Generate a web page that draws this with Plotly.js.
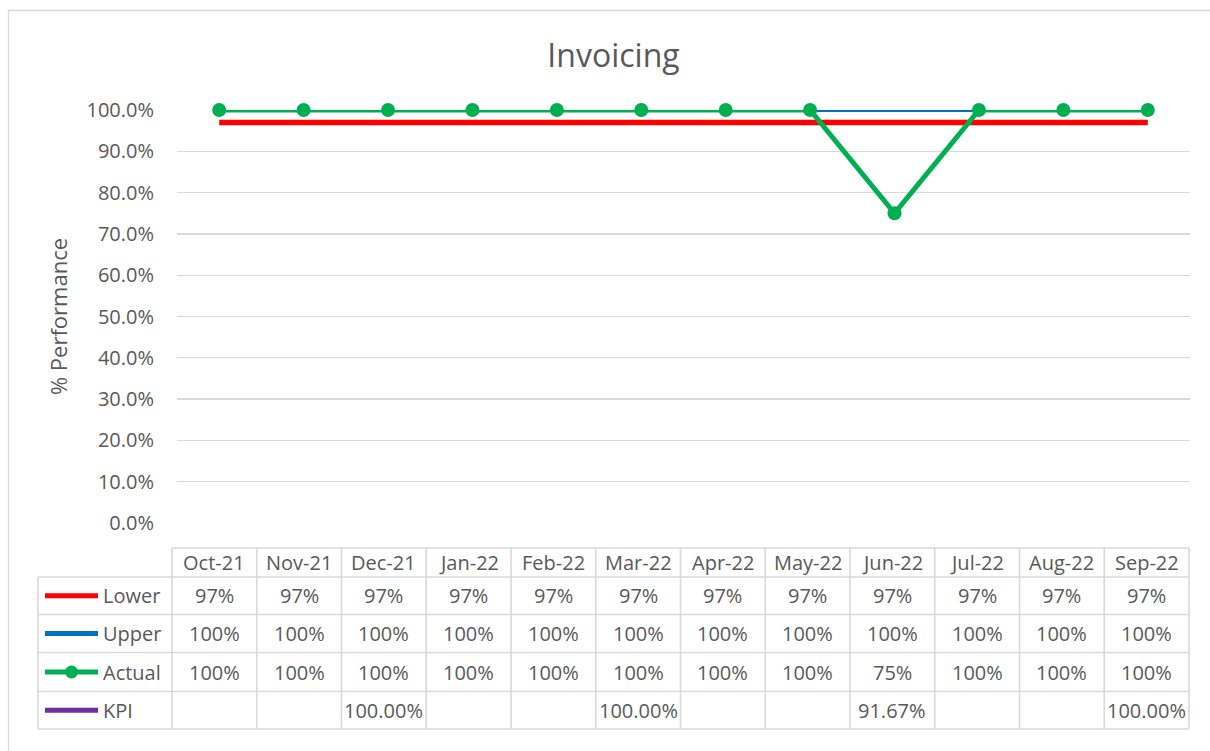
<!DOCTYPE html>
<html>
<head>
<meta charset="utf-8">
<script src="https://cdn.plot.ly/plotly-3.0.1.min.js"></script>
<style>html,body{margin:0;padding:0;background:#fff;}#chart{width:1210px;height:751px;}</style>
</head>
<body>
<div id="chart"></div>
<script>
// ---- data ----
const months = ["Oct-21","Nov-21","Dec-21","Jan-22","Feb-22","Mar-22","Apr-22","May-22","Jun-22","Jul-22","Aug-22","Sep-22"];
const lower  = [0.97,0.97,0.97,0.97,0.97,0.97,0.97,0.97,0.97,0.97,0.97,0.97];
const upper  = [1,1,1,1,1,1,1,1,1,1,1,1];
const actual = [1,1,1,1,1,1,1,1,0.75,1,1,1];
const kpi    = [null,null,1,null,null,1,null,null,0.9167,null,null,1];
const yTickVals = [0,0.1,0.2,0.3,0.4,0.5,0.6,0.7,0.8,0.9,1.0];

// ---- styling ----
const FONT = "Open Sans, sans-serif";
const TXT = "#595959";
const GRID = "#d9d9d9";
const colors = {Lower:"#FF0000", Upper:"#0070C0", Actual:"#00B050", KPI:"#7030A0"};

const W = 1210, H = 751;
const plotL = 177, plotR = 1190, plotT = 110, plotB = 523;
const pw = plotR - plotL, ph = plotB - plotT;
const px2x = p => (p - plotL) / pw;
const py2y = p => (plotB - p) / ph;

const x = months.map((m,i)=>i);

const traces = [
  {x:x, y:lower, name:"Lower", mode:"lines", line:{color:colors.Lower, width:5.5}, showlegend:false, hoverinfo:"skip"},
  {x:x, y:upper, name:"Upper", mode:"lines", line:{color:colors.Upper, width:4}, showlegend:false, hoverinfo:"skip"},
  {x:x, y:actual, name:"Actual", mode:"lines+markers", line:{color:colors.Actual, width:5}, marker:{color:colors.Actual, size:14}, showlegend:false, cliponaxis:false, hoverinfo:"skip"},
  {x:x, y:kpi, name:"KPI", mode:"lines", connectgaps:false, line:{color:colors.KPI, width:5}, showlegend:false, hoverinfo:"skip"}
];

// ---- data table ----
const rows = [
  {name:"Lower", vals:lower, fmt:v=>Math.round(v*100)+"%"},
  {name:"Upper", vals:upper, fmt:v=>Math.round(v*100)+"%"},
  {name:"Actual", vals:actual, fmt:v=>Math.round(v*100)+"%"},
  {name:"KPI", vals:kpi, fmt:v=>(v*100).toFixed(2)+"%"}
];
const tabL = 38, tabC0 = 172, tabR = 1189;
const colW = (tabR - tabC0) / months.length;
const rowY = [548, 577, 614.5, 652.5, 691.5, 729];
const shapes = [];
const annotations = [];
const lineStyle = {color:GRID, width:1.6};
const TF = {family:FONT, size:20, color:TXT};

// outer chart border (top & left visible)
shapes.push({type:"line", xref:"paper", yref:"paper", x0:px2x(8), x1:px2x(1212), y0:py2y(10.5), y1:py2y(10.5), line:{color:GRID, width:1.3}});
shapes.push({type:"line", xref:"paper", yref:"paper", x0:px2x(8.5), x1:px2x(8.5), y0:py2y(10), y1:py2y(753), line:{color:GRID, width:1.3}});

// horizontal table lines
for (let r = 0; r < rowY.length; r++) {
  const xs = r === 0 ? tabC0 : tabL;
  shapes.push({type:"line", xref:"paper", yref:"paper", x0:px2x(xs), x1:px2x(tabR), y0:py2y(rowY[r]), y1:py2y(rowY[r]), line:lineStyle});
}
// vertical table lines
shapes.push({type:"line", xref:"paper", yref:"paper", x0:px2x(tabL), x1:px2x(tabL), y0:py2y(rowY[1]), y1:py2y(rowY[5]), line:lineStyle});
for (let c = 0; c <= months.length; c++) {
  const xp = tabC0 + c*colW;
  shapes.push({type:"line", xref:"paper", yref:"paper", x0:px2x(xp), x1:px2x(xp), y0:py2y(rowY[0]), y1:py2y(rowY[5]), line:lineStyle});
}
// header
months.forEach((m,c)=>{
  annotations.push({text:m, xref:"paper", yref:"paper", x:px2x(tabC0 + (c+0.5)*colW), y:py2y((rowY[0]+rowY[1])/2), xanchor:"center", yanchor:"middle", showarrow:false, font:TF});
});
// rows
rows.forEach((row,r)=>{
  const yc = (rowY[r+1]+rowY[r+2])/2;
  // legend key
  shapes.push({type:"line", xref:"paper", yref:"paper", x0:px2x(45), x1:px2x(98), y0:py2y(yc), y1:py2y(yc), line:{color:colors[row.name], width:5}});
  if (row.name === "Actual") {
    shapes.push({type:"circle", xref:"paper", yref:"paper", x0:px2x(65), x1:px2x(78), y0:py2y(yc-6.5), y1:py2y(yc+6.5), fillcolor:colors.Actual, line:{color:colors.Actual, width:0}});
  }
  annotations.push({text:row.name, xref:"paper", yref:"paper", x:px2x(101), y:py2y(yc), xanchor:"left", yanchor:"middle", showarrow:false, font:TF});
  row.vals.forEach((v,c)=>{
    if (v === null) return;
    annotations.push({text:row.fmt(v), xref:"paper", yref:"paper", x:px2x(tabC0 + (c+0.5)*colW), y:py2y(yc), xanchor:"center", yanchor:"middle", showarrow:false, font:TF});
  });
});

const layout = {
  width:W, height:H,
  margin:{l:plotL, r:W-plotR, t:plotT, b:H-plotB, pad:0},
  paper_bgcolor:"#fff", plot_bgcolor:"#fff",
  font:{family:FONT, color:TXT},
  title:{text:"Invoicing", x:613.5/W, xanchor:"center", xref:"container", y:1-56/H, yanchor:"middle", yref:"container", font:{family:FONT, size:32, color:TXT}},
  xaxis:{range:[-0.5, months.length-0.5], showticklabels:false, showgrid:false, zeroline:false, showline:false, ticks:"", fixedrange:true},
  yaxis:{range:[0,1], tickvals:yTickVals, tickformat:".1%", showgrid:true, gridcolor:GRID, gridwidth:1.3, zeroline:false, showline:false, ticks:"", ticklabelstandoff:22,
         tickfont:TF,
         title:{text:"% Performance", font:{family:FONT, size:22, color:TXT}, standoff:12}, automargin:false, fixedrange:true},
  shapes:shapes,
  annotations:annotations
};

Plotly.newPlot("chart", traces, layout, {displayModeBar:false, staticPlot:true});
</script>
</body>
</html>
